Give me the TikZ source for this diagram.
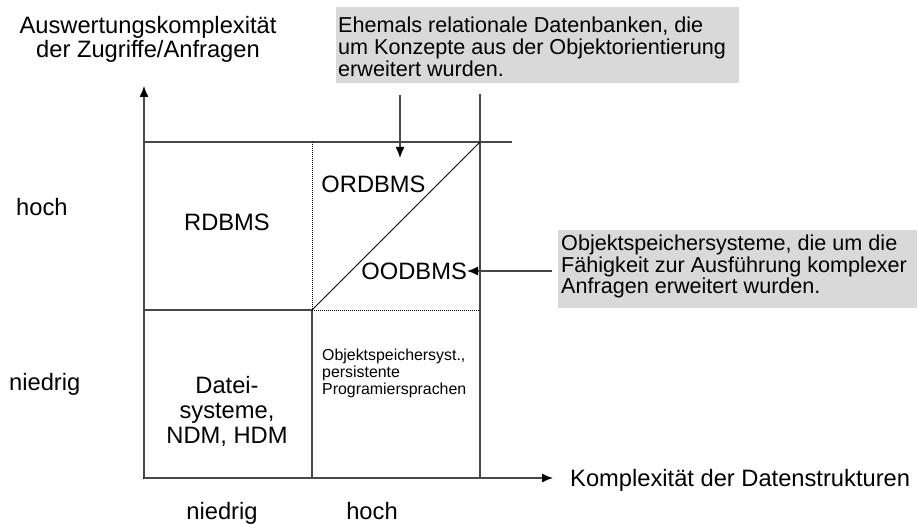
\documentclass[tikz,border=0pt]{standalone}
\usepackage{fontspec}
\setmainfont{Liberation Sans}
\usetikzlibrary{arrows.meta}
\definecolor{gridline}{HTML}{474747}
\definecolor{calloutfill}{HTML}{D9D9D9}
\tikzset{
  grid/.style={draw=gridline, line width=1.3pt},
  dotline/.style={draw=black, line width=0.8pt, dash pattern=on 0.9pt off 1.1pt},
  diag/.style={draw=black, line width=1pt},
  framebox/.style={draw=black, line width=1.6pt},
  arr/.style={draw=gridline, line width=1.3pt, -{Latex[length=11pt,width=9pt,color=black]}},
  biglabel/.style={font=\fontsize{23.7}{25}\selectfont, inner sep=0pt},
  callouttext/.style={font=\fontsize{21.6}{21.8}\selectfont, inner sep=0pt, align=left},
  smalltext/.style={font=\fontsize{15.9}{17}\selectfont, inner sep=0pt, align=left},
  calloutbox/.style={fill=calloutfill, draw=none, inner sep=0pt, anchor=north west},
}
\begin{document}
\begin{tikzpicture}[x=1pt,y=-1pt]
\useasboundingbox (0,0) rectangle (918,524);
% grid coordinates
\coordinate (o) at (144,478);
\coordinate (ytip) at (144,86);
\coordinate (xtip) at (553,478);
\coordinate (tl) at (144,142);
\coordinate (tm) at (312,142);
\coordinate (tr) at (480,142);
\coordinate (tx) at (512,142);
\coordinate (rtop) at (480,94);
\coordinate (ml) at (144,310);
\coordinate (mm) at (312,310);
\coordinate (mr) at (480,310);
\coordinate (bm) at (312,478);
\coordinate (br) at (480,478);
% callout boxes
\node[calloutbox, minimum width=403pt, minimum height=76pt] (box1) at (336,7) {};
\node[calloutbox, minimum width=359pt, minimum height=78pt] (box2) at (558,230) {};
\node[callouttext, anchor=north west] (c1) at (338,16.8) {Ehemals relationale Datenbanken, die\\um Konzepte aus der Objektorientierung\\erweitert wurden.};
\node[callouttext, anchor=north west] (c2) at (561,234.5) {Objektspeichersysteme, die um die\\Fähigkeit zur Ausführung komplexer\\Anfragen erweitert wurden.};
% lower-left box
\draw[framebox] (ml) rectangle (bm);
% grid lines
\draw[grid] (tl) -- (tx);
\draw[grid] (rtop) -- (br);
\draw[grid] (ml) -- (mm);
\draw[grid] (mm) -- (bm);
\draw[dotline] (tm) -- (mm);
\draw[dotline] (mm) -- (mr);
\draw[diag] (mm) -- (tr);
% axes
\draw[arr] (o) -- (ytip);
\draw[arr] (o) -- (xtip);
% axis labels
\node[biglabel, align=center, anchor=north, font=\fontsize{23.7}{23.5}\selectfont] (ylab) at (148,16.2) {Auswertungskomplexität\\der Zugriffe/Anfragen};
\node[biglabel, anchor=base west] (xlab) at (570,486) {Komplexität der Datenstrukturen};
\node[biglabel, anchor=base west] (yhoch) at (16,215) {hoch};
\node[biglabel, anchor=base west] (yniedrig) at (9,390) {niedrig};
\node[biglabel, anchor=base] (xniedrig) at (222,519) {niedrig};
\node[biglabel, anchor=base] (xhoch) at (372,519) {hoch};
% cell labels
\node[biglabel, anchor=base] (rdbms) at (227,230) {RDBMS};
\node[biglabel, anchor=base] (ordbms) at (373.5,192) {ORDBMS};
\node[biglabel, anchor=base east] (oodbms) at (467,279) {OODBMS};
\node[biglabel, align=center, anchor=north] (datei) at (227,376) {Datei-\\systeme,\\NDM, HDM};
\node[smalltext, anchor=north west] (objsp) at (322,348.6) {Objektspeichersyst.,\\persistente\\Programiersprachen};
% callout arrows
\coordinate (a1s) at (400,95);
\coordinate (a1e) at (400,158);
\coordinate (a2s) at (552,271);
\draw[arr] (a1s) -- (a1e);
\draw[arr] (a2s) -- (oodbms.east |- a2s);
\end{tikzpicture}
\end{document}
